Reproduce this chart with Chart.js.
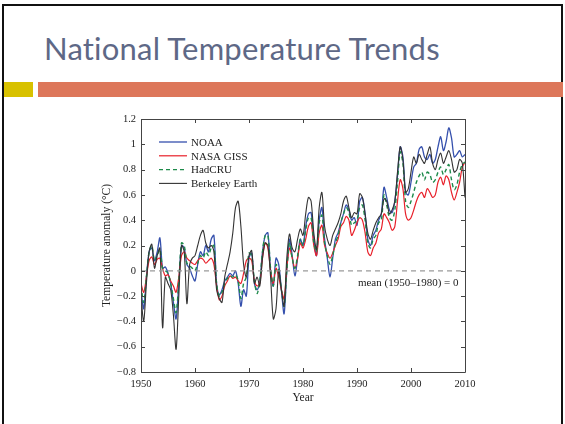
<!DOCTYPE html>
<html>
<head>
<meta charset="utf-8">
<script src="https://cdn.jsdelivr.net/npm/chart.js@4"></script>
<style>
  html, body { margin: 0; padding: 0; background: #fff; }
  body { width: 565px; height: 424px; position: relative; overflow: hidden; }
  #frame { position: absolute; left: 2px; top: 4px; width: 561px; height: 430px; border: 2px solid #111; box-sizing: border-box; border-bottom: none; }
  #title { position: absolute; left: 44px; top: 29px; font-family: Lato, sans-serif; font-size: 31px; color: #5e6886; white-space: nowrap; letter-spacing: 0.2px; }
  #ybar { position: absolute; left: 4px; top: 82px; width: 29px; height: 15px; background: #d8c100; }
  #obar { position: absolute; left: 38px; top: 82px; width: 525px; height: 15px; background: #dd775a; }
  #c { position: absolute; left: 0; top: 0; }
</style>
</head>
<body>
<div id="frame"></div>
<div id="title">National Temperature Trends</div>
<div id="ybar"></div>
<div id="obar"></div>
<canvas id="c" width="565" height="424"></canvas>
<script>
// ---------- data ----------
const years = [];
for (let k = 0; k <= 120; k++) years.push(1950 + k * 0.5);

const seriesNames = ["NOAA", "NASA GISS", "HadCRU", "Berkeley Earth"];

const noaa = [
 -0.15,-0.30,-0.05,0.15,0.18,0.08,0.15,0.26,0.02,0.03,
 -0.02,-0.10,-0.25,-0.38,-0.10,0.20,0.18,0.05,0.02,-0.04,
 -0.08,0.05,0.15,0.12,0.20,0.15,0.25,0.28,-0.10,-0.19,
 -0.15,-0.08,-0.05,-0.02,-0.04,0.00,-0.10,-0.28,-0.15,-0.20,
 0.10,0.14,-0.10,-0.15,-0.08,0.15,0.28,0.30,0.00,-0.12,
 0.10,0.05,-0.15,-0.34,0.00,0.25,0.12,-0.04,0.10,0.25,
 0.20,0.35,0.45,0.46,0.25,0.12,0.40,0.50,0.25,0.10,
 -0.05,0.10,0.25,0.30,0.38,0.45,0.52,0.48,0.40,0.42,
 0.36,0.55,0.58,0.45,0.25,0.20,0.28,0.32,0.40,0.45,
 0.66,0.58,0.48,0.46,0.55,0.75,0.98,0.90,0.62,0.60,
 0.70,0.82,0.85,0.96,0.98,0.90,0.88,0.92,0.85,0.88,
 0.98,1.06,0.95,1.02,1.13,1.05,0.90,0.92,0.95,0.90,
 0.92];

const giss = [
 -0.10,-0.17,-0.05,0.08,0.11,0.05,0.09,0.10,0.02,-0.04,
 -0.03,-0.08,-0.12,-0.17,-0.05,0.12,0.15,0.10,0.08,0.06,
 0.05,0.08,0.10,0.09,0.06,0.08,0.10,0.05,-0.12,-0.23,
 -0.20,-0.12,-0.08,-0.04,-0.06,-0.05,-0.08,-0.10,-0.02,0.08,
 0.10,0.08,-0.08,-0.12,-0.10,0.10,0.22,0.18,0.00,-0.10,
 0.02,-0.05,-0.15,-0.22,0.02,0.18,0.10,0.02,0.10,0.22,
 0.18,0.25,0.35,0.38,0.20,0.12,0.30,0.36,0.20,0.14,
 0.10,0.14,0.20,0.25,0.35,0.38,0.43,0.40,0.28,0.32,
 0.38,0.42,0.40,0.30,0.15,0.12,0.18,0.22,0.30,0.33,
 0.45,0.42,0.38,0.32,0.35,0.55,0.72,0.65,0.45,0.40,
 0.42,0.48,0.55,0.60,0.62,0.58,0.65,0.62,0.58,0.60,
 0.70,0.74,0.68,0.75,0.72,0.62,0.56,0.62,0.70,0.82,
 0.86];

const hadcru = [
 -0.12,-0.25,-0.05,0.15,0.20,0.08,0.12,0.17,0.02,0.00,
 -0.02,-0.10,-0.22,-0.33,-0.08,0.22,0.20,0.06,0.04,0.02,
 0.00,0.06,0.12,0.10,0.15,0.12,0.18,0.20,-0.10,-0.20,
 -0.17,-0.10,-0.06,-0.04,-0.05,-0.03,-0.08,-0.22,-0.10,-0.05,
 0.14,0.12,-0.08,-0.18,-0.08,0.15,0.28,0.28,0.02,-0.12,
 0.05,0.00,-0.15,-0.28,0.00,0.22,0.10,0.02,0.12,0.25,
 0.20,0.32,0.42,0.42,0.22,0.15,0.38,0.44,0.22,0.12,
 0.05,0.12,0.22,0.28,0.38,0.45,0.50,0.46,0.36,0.38,
 0.40,0.50,0.52,0.40,0.22,0.18,0.25,0.28,0.38,0.40,
 0.60,0.52,0.42,0.40,0.48,0.70,0.94,0.85,0.55,0.50,
 0.55,0.62,0.70,0.75,0.78,0.72,0.78,0.76,0.70,0.72,
 0.78,0.82,0.76,0.80,0.84,0.72,0.64,0.68,0.78,0.84,
 0.86];

const berkeley = [
 -0.20,-0.40,-0.10,0.15,0.21,0.02,0.12,0.18,-0.45,-0.05,
 -0.10,-0.15,-0.35,-0.62,-0.20,0.20,0.15,-0.26,0.05,0.10,
 0.12,0.20,0.28,0.32,0.22,0.18,0.20,0.15,-0.15,-0.22,
 -0.25,-0.05,0.05,0.15,0.30,0.50,0.55,0.35,0.05,-0.05,
 0.12,0.16,-0.10,-0.05,-0.12,0.10,0.22,0.20,-0.05,-0.38,
 -0.30,0.00,-0.15,-0.28,0.10,0.29,0.18,0.15,0.25,0.33,
 0.28,0.45,0.58,0.55,0.30,0.17,0.50,0.62,0.35,0.25,
 0.20,0.28,0.33,0.38,0.45,0.55,0.59,0.50,0.42,0.46,
 0.45,0.61,0.58,0.45,0.30,0.25,0.32,0.38,0.42,0.45,
 0.57,0.55,0.45,0.48,0.55,0.78,0.98,0.88,0.62,0.65,
 0.78,0.90,0.85,0.92,0.88,0.85,0.92,0.98,0.85,0.80,
 0.88,0.93,0.85,0.90,0.95,0.88,0.78,0.80,0.88,0.85,
 0.58];

const xTicks = [1950, 1960, 1970, 1980, 1990, 2000, 2010];
const yTicks = [-0.8, -0.6, -0.4, -0.2, 0, 0.2, 0.4, 0.6, 0.8, 1, 1.2];
const meanLabel = "mean (1950\u20131980) = 0";

// ---------- chart ----------
const pts = arr => arr.map((v, i) => ({ x: years[i], y: v }));
const SERIF = "'Liberation Serif', 'Times New Roman', serif";

const fmtY = v => {
  if (Math.abs(v) < 1e-9) return "0";
  const a = Math.abs(v);
  const s = (Math.abs(a - Math.round(a)) < 1e-9) ? String(Math.round(a)) : a.toFixed(1);
  return (v < 0 ? "\u2212" : "") + s;
};

const frameTicks = {
  id: "frameTicks",
  afterDatasetsDraw(chart) {
    const { ctx, chartArea: a, scales } = chart;
    ctx.save();
    ctx.strokeStyle = "#444";
    ctx.lineWidth = 1;
    ctx.beginPath();
    ctx.rect(Math.round(a.left) + 0.5, Math.round(a.top) + 0.5, Math.round(a.right - a.left), Math.round(a.bottom - a.top));
    ctx.stroke();
    const L = 4;
    ctx.beginPath();
    xTicks.forEach(t => {
      const px = Math.round(scales.x.getPixelForValue(t)) + 0.5;
      ctx.moveTo(px, a.bottom); ctx.lineTo(px, a.bottom - L);
      ctx.moveTo(px, a.top); ctx.lineTo(px, a.top + L);
    });
    yTicks.forEach(t => {
      const py = Math.round(scales.y.getPixelForValue(t)) + 0.5;
      ctx.moveTo(a.left, py); ctx.lineTo(a.left + L, py);
      ctx.moveTo(a.right, py); ctx.lineTo(a.right - L, py);
    });
    ctx.stroke();

    // legend inside plot, in series order
    ctx.font = "11px " + SERIF;
    ctx.fillStyle = "#222";
    ctx.textBaseline = "middle";
    ctx.textAlign = "left";
    const x0 = a.left + 18, x1 = a.left + 46, tx = a.left + 50;
    let y = a.top + 23;
    seriesNames.forEach(name => {
      const ds = chart.data.datasets.find(d => d.label === name);
      ctx.save();
      ctx.strokeStyle = ds.borderColor;
      ctx.lineWidth = ds.borderWidth;
      ctx.setLineDash(ds.borderDash || []);
      ctx.beginPath(); ctx.moveTo(x0, y); ctx.lineTo(x1, y); ctx.stroke();
      ctx.restore();
      ctx.fillText(name, tx, y + 1);
      y += 13.8;
    });

    // mean annotation
    ctx.textAlign = "right";
    ctx.fillText(meanLabel, scales.x.getPixelForValue(2008.8), scales.y.getPixelForValue(-0.1));
    ctx.restore();
  }
};

new Chart(document.getElementById("c"), {
  type: "line",
  data: {
    datasets: [
      { label: "mean", data: [{ x: 1950, y: 0 }, { x: 2010, y: 0 }], borderColor: "#9a9a9a", borderWidth: 1.2, borderDash: [5, 4], pointRadius: 0, tension: 0 },
      { label: seriesNames[3], data: pts(berkeley), borderColor: "#333333", borderWidth: 1.1 },
      { label: seriesNames[2], data: pts(hadcru), borderColor: "#1d8a4a", borderWidth: 1.4, borderDash: [4, 3] },
      { label: seriesNames[1], data: pts(giss), borderColor: "#e8202a", borderWidth: 1.2 },
      { label: seriesNames[0], data: pts(noaa), borderColor: "#3550ad", borderWidth: 1.3 }
    ].map(d => Object.assign({ pointRadius: 0, tension: 0.3, fill: false }, d))
  },
  options: {
    responsive: false,
    animation: false,
    events: [],
    layout: { padding: { left: 0, right: 100, top: 119, bottom: 0 } },
    plugins: { legend: { display: false }, tooltip: { enabled: false } },
    scales: {
      x: {
        type: "linear", min: 1950, max: 2010,
        afterFit: s => { s.height = 52; },
        afterBuildTicks: s => { s.ticks = xTicks.map(v => ({ value: v })); },
        grid: { display: false, drawTicks: false },
        border: { display: false },
        ticks: { padding: 6, color: "#222", font: { family: SERIF, size: 10.5 }, callback: v => String(v), maxRotation: 0 },
        title: { display: true, text: "Year", color: "#222", font: { family: SERIF, size: 11.5 }, padding: { top: 0, bottom: 19 } }
      },
      y: {
        type: "linear", min: -0.8, max: 1.2,
        afterFit: s => { s.width = 141; },
        afterBuildTicks: s => { s.ticks = yTicks.map(v => ({ value: v })); },
        grid: { display: false, drawTicks: false },
        border: { display: false },
        ticks: { padding: 5, color: "#222", font: { family: SERIF, size: 10.5 }, callback: v => fmtY(v) },
        title: { display: true, text: "Temperature anomaly (\u00B0C)", color: "#222", font: { family: SERIF, size: 11.5 }, padding: { top: 100, bottom: 0 } }
      }
    }
  },
  plugins: [frameTicks]
});
</script>
</body>
</html>
